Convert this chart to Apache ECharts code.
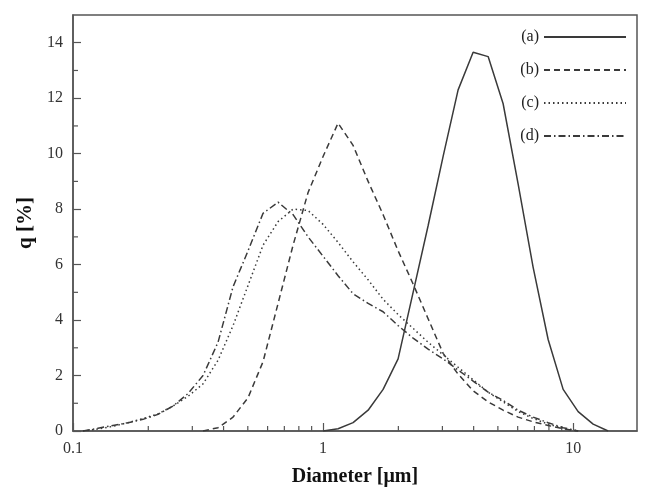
<!DOCTYPE html>
<html>
<head>
<meta charset="utf-8">
<script src="https://cdn.jsdelivr.net/npm/echarts@6/dist/echarts.min.js"></script>
<style>
  html, body { margin: 0; padding: 0; background: #fff; }
  #main { width: 650px; height: 492px; }
</style>
</head>
<body>
<div id="main"></div>
<script>
// particle size bins (um), log spaced
var diameters = [0.1096, 0.1259, 0.1445, 0.1660, 0.1905, 0.2188, 0.2512, 0.2884,
  0.3311, 0.3802, 0.4365, 0.5012, 0.5754, 0.6607, 0.7586, 0.8710,
  1.000, 1.148, 1.318, 1.514, 1.738, 1.995, 2.291, 2.630,
  3.020, 3.467, 3.981, 4.571, 5.248, 6.026, 6.918, 7.943,
  9.120, 10.47, 12.02, 13.80];

// q [%] per bin, null = not measured
var seriesA = [null, null, null, null, null, null, null, null,
  null, null, null, null, null, null, null, null,
  0, 0.08, 0.3, 0.75, 1.5, 2.6, 5.0, 7.4,
  9.9, 12.3, 13.66, 13.5, 11.8, 8.9, 5.9, 3.3,
  1.5, 0.7, 0.25, 0];
var seriesB = [null, null, null, null, null, null, null, null,
  0, 0.12, 0.5, 1.2, 2.5, 4.6, 6.7, 8.6,
  9.9, 11.1, 10.3, 9.0, 7.8, 6.5, 5.3, 4.05,
  2.8, 2.05, 1.45, 1.05, 0.75, 0.5, 0.33, 0.2,
  0.08, 0, null, null];
var seriesC = [0, 0.07, 0.17, 0.3, 0.45, 0.62, 0.9, 1.25,
  1.7, 2.55, 3.8, 5.25, 6.7, 7.55, 8.0, 7.95,
  7.45, 6.8, 6.1, 5.45, 4.75, 4.2, 3.7, 3.2,
  2.75, 2.3, 1.85, 1.4, 1.05, 0.7, 0.45, 0.25,
  0.1, 0, null, null];
var seriesD = [0, 0.1, 0.2, 0.3, 0.42, 0.6, 0.9, 1.35,
  2.0, 3.2, 5.2, 6.5, 7.85, 8.25, 7.8, 7.0,
  6.3, 5.6, 4.95, 4.6, 4.3, 3.8, 3.35, 2.95,
  2.6, 2.2, 1.8, 1.4, 1.1, 0.75, 0.5, 0.3,
  0.12, 0, null, null];

var names = ['(a)', '(b)', '(c)', '(d)'];
var xMinorTicks = [0.2, 0.3, 0.4, 0.5, 0.6, 0.7, 0.8, 0.9, 2, 3, 4, 5, 6, 7, 8, 9];
var yMinorTicks = [1, 3, 5, 7, 9, 11, 13];

function pairs(vals) {
  var out = [];
  for (var i = 0; i < diameters.length; i++) {
    if (vals[i] !== null) out.push([diameters[i], vals[i]]);
  }
  return out;
}

var ink = '#3a3a3a';
var serif = '"Liberation Serif", "DejaVu Serif", serif';

function lineSeries(name, vals, dash) {
  return {
    name: name,
    type: 'line',
    symbol: 'none',
    smooth: false,
    data: pairs(vals),
    lineStyle: { color: ink, width: 1.5, type: dash },
    itemStyle: { color: ink }
  };
}

var myChart = echarts.init(document.getElementById('main'));

var option = {
  animation: false,
  backgroundColor: '#fff',
  grid: {
    left: 73, right: 13, top: 15, bottom: 61,
    show: true, borderColor: '#555', borderWidth: 1.5
  },
  legend: {
    orient: 'vertical',
    right: 18,
    top: 24,
    align: 'right',
    itemWidth: 82,
    itemHeight: 14,
    itemGap: 17,
    data: names,
    // hide the marker dot, keep only the line sample
    itemStyle: { color: 'transparent', borderColor: 'transparent', borderWidth: 0 },
    textStyle: { fontFamily: serif, fontSize: 16, color: '#222' }
  },
  xAxis: {
    type: 'log',
    logBase: 10,
    min: 0.1,
    max: 18,
    name: 'Diameter [\u03bcm]',
    nameLocation: 'middle',
    nameGap: 36,
    nameTextStyle: { fontFamily: serif, fontSize: 20, fontWeight: 'bold', color: '#111' },
    axisLine: { lineStyle: { color: '#555', width: 1.5 } },
    axisTick: { inside: true, length: 8, lineStyle: { color: '#555', width: 1.2 } },
    axisLabel: {
      showMaxLabel: false,
      margin: 10,
      fontFamily: serif, fontSize: 16, color: '#333'
    },
    splitLine: { show: false }
  },
  yAxis: {
    type: 'value',
    min: 0,
    max: 15,
    interval: 2,
    name: 'q [%]',
    nameLocation: 'middle',
    nameGap: 36,
    nameTextStyle: { fontFamily: serif, fontSize: 21, fontWeight: 'bold', color: '#111' },
    axisLine: { show: true, lineStyle: { color: '#555', width: 1.5 } },
    axisTick: { show: true, inside: true, length: 8, lineStyle: { color: '#555', width: 1.2 } },
    axisLabel: {
      showMaxLabel: false,
      margin: 10,
      fontFamily: serif, fontSize: 16, color: '#333'
    },
    splitLine: { show: false }
  },
  series: [
    lineSeries(names[0], seriesA, 'solid'),
    lineSeries(names[1], seriesB, [6, 4]),
    lineSeries(names[2], seriesC, [1.5, 3]),
    lineSeries(names[3], seriesD, [7, 3, 1.5, 3])
  ]
};

myChart.setOption(option);

// minor ticks, placed through the axes' own scales
function minorTicks() {
  var els = [];
  var y0 = myChart.convertToPixel({ yAxisIndex: 0 }, 0);
  var x0 = myChart.convertToPixel({ xAxisIndex: 0 }, 0.1);
  xMinorTicks.forEach(function (v) {
    var px = myChart.convertToPixel({ xAxisIndex: 0 }, v);
    els.push({ type: 'line', silent: true,
      shape: { x1: px, y1: y0, x2: px, y2: y0 - 5 },
      style: { stroke: '#555', lineWidth: 1.2 } });
  });
  yMinorTicks.forEach(function (v) {
    var py = myChart.convertToPixel({ yAxisIndex: 0 }, v);
    els.push({ type: 'line', silent: true,
      shape: { x1: x0, y1: py, x2: x0 + 5, y2: py },
      style: { stroke: '#555', lineWidth: 1.2 } });
  });
  myChart.setOption({ graphic: els });
}
minorTicks();
</script>
</body>
</html>
